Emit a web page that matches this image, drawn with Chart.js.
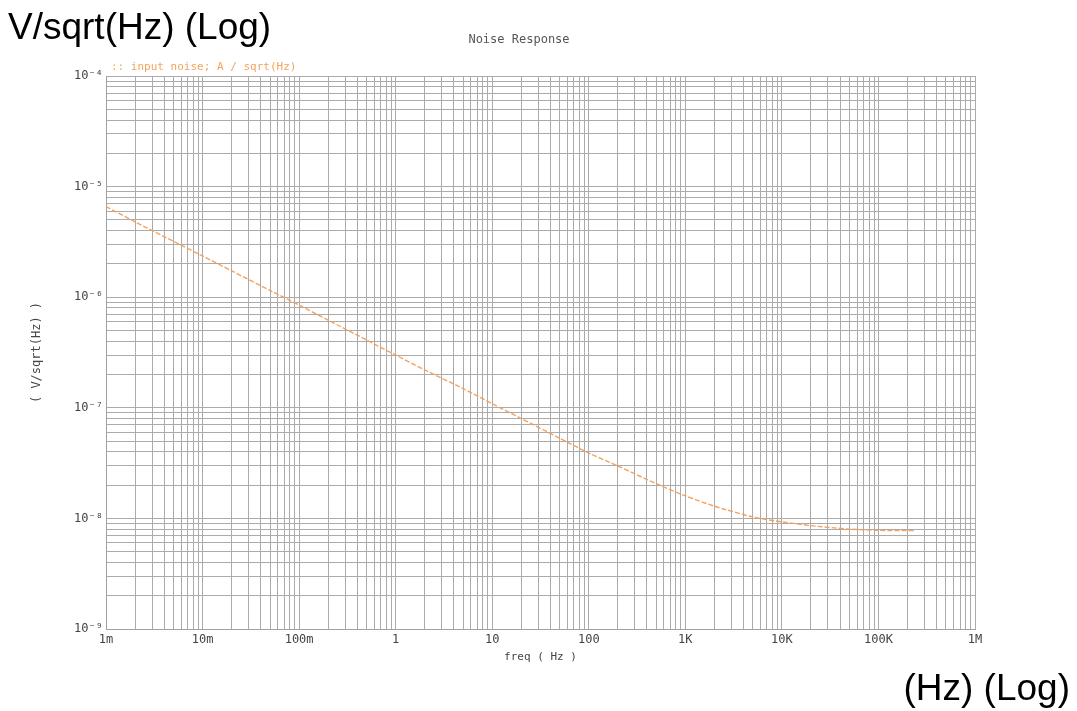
<!DOCTYPE html>
<html>
<head>
<meta charset="utf-8">
<script src="https://cdn.jsdelivr.net/npm/chart.js@4/dist/chart.umd.min.js"></script>
<style>
  html, body { margin: 0; padding: 0; background: #fff; }
  #wrap { position: relative; width: 1077px; height: 711px; overflow: hidden; }
  #plot { position: absolute; left: 0; top: 0; }
  .big { position: absolute; font-family: "Liberation Sans", Arial, sans-serif; font-size: 37px;
         line-height: 37px; color: #000; white-space: nowrap; }
  #yunit { left: 8px; top: 8px; }
  #xunit { right: 7px; top: 669px; }
  #title { position: absolute; left: 519px; top: 32px; transform: translateX(-50%);
           font-family: "DejaVu Sans Mono", monospace; font-size: 12px; color: #555; white-space: nowrap; }
  #legend { position: absolute; left: 111px; top: 60px;
            font-family: "DejaVu Sans Mono", monospace; font-size: 11px; color: #f3a45c; white-space: nowrap; }
</style>
</head>
<body>
<div id="wrap">
  <canvas id="plot" width="1077" height="711"></canvas>
  <div class="big" id="yunit">V/sqrt(Hz) (Log)</div>
  <div class="big" id="xunit">(Hz) (Log)</div>
  <div id="title">Noise Response</div>
  <div id="legend"></div>
</div>
<script>
// Input-referred noise density, read per frequency point
const freqHz = [1e-3, 2e-3, 5e-3, 1e-2, 2e-2, 5e-2, 0.1, 0.2, 0.5, 1, 2, 5, 10, 20, 50,
                100, 200, 500, 1e3, 2e3, 5e3, 1e4, 2e4, 5e4, 1e5, 2.4e5];
const noiseVrtHz = [6.6e-6, 4.8e-6, 3.2e-6, 2.36e-6, 1.73e-6, 1.15e-6, 8.5e-7, 6.2e-7, 4.1e-7, 3.0e-7,
                    2.2e-7, 1.49e-7, 1.09e-7, 8.0e-8, 5.3e-8, 3.9e-8, 2.98e-8, 2.06e-8, 1.6e-8, 1.29e-8,
                    1.03e-8, 9.3e-9, 8.6e-9, 8.0e-9, 7.8e-9, 7.75e-9];

const seriesLabel = ':: input noise; A / sqrt(Hz)';
const chartTitle = 'Noise Response';
const xAxisTitle = 'freq ( Hz )';
const yAxisTitle = '( V/sqrt(Hz) )';

// Decade tick labels
const xDecadeExps = [-3, -2, -1, 0, 1, 2, 3, 4, 5, 6];
const xDecadeLabels = ['1m', '10m', '100m', '1', '10', '100', '1K', '10K', '100K', '1M'];
const yDecadeExps = [-9, -8, -7, -6, -5, -4];
const yDecadeLabels = ['10\u207B\u2079', '10\u207B\u2078', '10\u207B\u2077', '10\u207B\u2076', '10\u207B\u2075', '10\u207B\u2074'];

document.getElementById('legend').textContent = seriesLabel;
document.getElementById('title').textContent = chartTitle;

// grid values 1..9 x 10^k between the first and last decade
function logGrid(exps) {
  const vals = [];
  for (let i = 0; i < exps.length - 1; i++) {
    for (let m = 1; m <= 9; m++) vals.push(m * Math.pow(10, exps[i]));
  }
  vals.push(Math.pow(10, exps[exps.length - 1]));
  return vals;
}
function decadeLabel(value, exps, labels) {
  const e = Math.log10(value);
  const r = Math.round(e);
  if (Math.abs(e - r) > 1e-6) return '';
  const i = exps.indexOf(r);
  return i >= 0 ? labels[i] : '';
}

const points = freqHz.map((f, i) => ({ x: f, y: noiseVrtHz[i] }));
const gridColor = '#ababab';
const tickFont = { family: '"DejaVu Sans Mono", monospace', size: 12 };

new Chart(document.getElementById('plot'), {
  type: 'line',
  data: {
    datasets: [{
      label: seriesLabel,
      data: points,
      borderColor: 'rgba(242,158,88,0.95)',
      borderWidth: 1.4,
      borderDash: [5, 2],
      pointRadius: 0,
      tension: 0.25,
      fill: false
    }]
  },
  options: {
    responsive: false,
    animation: false,
    devicePixelRatio: 1,
    layout: { padding: { left: 0, right: 102, top: 76, bottom: 42 } },
    plugins: { legend: { display: false }, title: { display: false }, tooltip: { enabled: false } },
    scales: {
      x: {
        type: 'logarithmic',
        min: 1e-3, max: 1e6,
        afterBuildTicks: s => { s.ticks = logGrid(xDecadeExps).map(v => ({ value: v })); },
        afterFit: s => { s.height = 40; },
        ticks: {
          autoSkip: false, maxRotation: 0, minRotation: 0, padding: 4,
          color: '#444', font: tickFont,
          callback: v => decadeLabel(v, xDecadeExps, xDecadeLabels)
        },
        grid: { color: gridColor, lineWidth: 1, drawTicks: false },
        border: { display: true, color: '#a0a0a0' },
        title: { display: true, text: xAxisTitle, color: '#444',
                 font: { family: '"DejaVu Sans Mono", monospace', size: 11 },
                 padding: { top: 0, bottom: 5 } }
      },
      y: {
        type: 'logarithmic',
        min: 1e-9, max: 1e-4,
        afterBuildTicks: s => { s.ticks = logGrid(yDecadeExps).map(v => ({ value: v })); },
        afterFit: s => { s.width = 106; },
        ticks: {
          autoSkip: false, padding: 3,
          color: '#444', font: tickFont,
          callback: v => decadeLabel(v, yDecadeExps, yDecadeLabels)
        },
        grid: { color: gridColor, lineWidth: 1, drawTicks: false },
        border: { display: true, color: '#a0a0a0' },
        title: { display: true, text: yAxisTitle, color: '#444',
                 font: { family: '"DejaVu Sans Mono", monospace', size: 12 },
                 padding: { top: 30, bottom: 0 } }
      }
    }
  }
});
</script>
</body>
</html>
